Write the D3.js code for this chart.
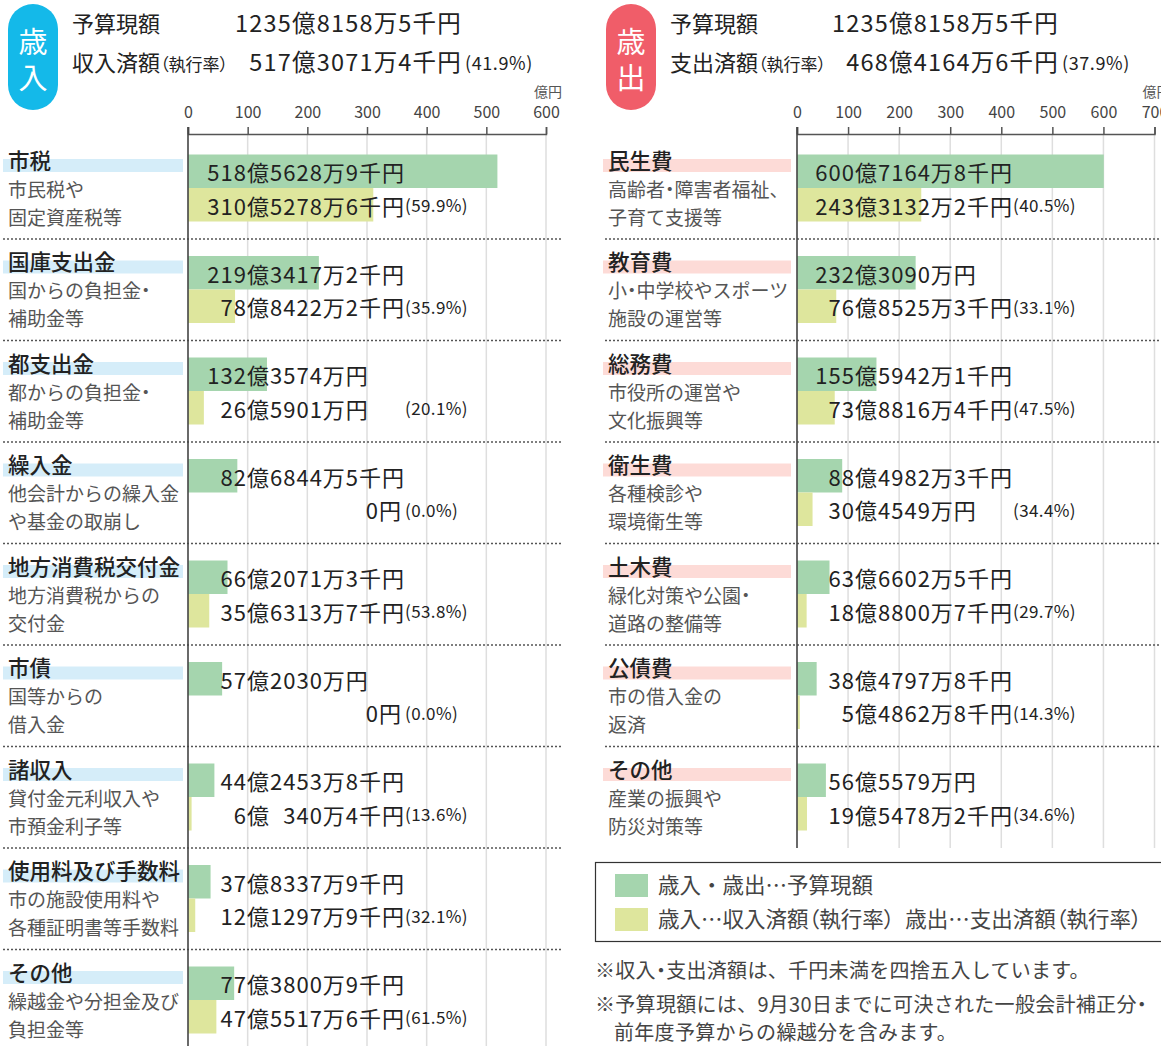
<!DOCTYPE html>
<html>
<head>
<meta charset="utf-8">
<script src="https://cdn.jsdelivr.net/npm/d3@7"></script>
<style>
  body { margin: 0; background: #fff; }
  svg { display: block; font-family: "Noto Sans CJK JP", "Noto Sans", sans-serif; }
  .palt { font-feature-settings: "palt"; }
</style>
</head>
<body>
<script>
// 歳入 (revenue) data
var revCats = ["市税", "国庫支出金", "都支出金", "繰入金", "地方消費税交付金", "市債", "諸収入", "使用料及び手数料", "その他"];
var revNotes = [
  ["市民税や", "固定資産税等"],
  ["国からの負担金・", "補助金等"],
  ["都からの負担金・", "補助金等"],
  ["他会計からの繰入金", "や基金の取崩し"],
  ["地方消費税からの", "交付金"],
  ["国等からの", "借入金"],
  ["貸付金元利収入や", "市預金利子等"],
  ["市の施設使用料や", "各種証明書等手数料"],
  ["繰越金や分担金及び", "負担金等"]
];
var revBudget = [518.5629, 219.3417, 132.3574, 82.6845, 66.2071, 57.2030, 44.2454, 37.8338, 77.3801];
var revActual = [310.5279, 78.8422, 26.5901, 0, 35.6314, 0, 6.0340, 12.1298, 47.5518];
var revBudgetLabels = ["518億5628万9千円", "219億3417万2千円", "132億3574万円", "82億6844万5千円", "66億2071万3千円", "57億2030万円", "44億2453万8千円", "37億8337万9千円", "77億3800万9千円"];
var revActualLabels = ["310億5278万6千円", "78億8422万2千円", "26億5901万円", "0円", "35億6313万7千円", "0円", "6億\u2007340万4千円", "12億1297万9千円", "47億5517万6千円"];
var revRates = ["(59.9%)", "(35.9%)", "(20.1%)", "(0.0%)", "(53.8%)", "(0.0%)", "(13.6%)", "(32.1%)", "(61.5%)"];

// 歳出 (expenditure) data
var expCats = ["民生費", "教育費", "総務費", "衛生費", "土木費", "公債費", "その他"];
var expNotes = [
  ["高齢者・障害者福祉、", "子育て支援等"],
  ["小・中学校やスポーツ", "施設の運営等"],
  ["市役所の運営や", "文化振興等"],
  ["各種検診や", "環境衛生等"],
  ["緑化対策や公園・", "道路の整備等"],
  ["市の借入金の", "返済"],
  ["産業の振興や", "防災対策等"]
];
var expBudget = [600.7165, 232.3090, 155.5942, 88.4982, 63.6603, 38.4798, 56.5579];
var expActual = [243.3132, 76.8525, 73.8816, 30.4549, 18.8801, 5.4863, 19.5478];
var expBudgetLabels = ["600億7164万8千円", "232億3090万円", "155億5942万1千円", "88億4982万3千円", "63億6602万5千円", "38億4797万8千円", "56億5579万円"];
var expActualLabels = ["243億3132万2千円", "76億8525万3千円", "73億8816万4千円", "30億4549万円", "18億8800万7千円", "5億4862万8千円", "19億5478万2千円"];
var expRates = ["(40.5%)", "(33.1%)", "(47.5%)", "(34.4%)", "(29.7%)", "(14.3%)", "(34.6%)"];

var revTicks = [0, 100, 200, 300, 400, 500, 600];
var expTicks = [0, 100, 200, 300, 400, 500, 600, 700];

var W = 1161, H = 1046;
var green = "#a5d5ae", yellow = "#dee69d";
var rowTop = 137.5, rowH = 101.5, barH = 33.5;

var svg = d3.select("body").append("svg")
    .attr("width", W)
    .attr("height", H);

// narrow middle dots and brackets, like the printed sheet
function softText(sel, str) {
  var parts = str.split(/([・（）])/);
  parts.forEach(function(p) {
    if (!p) return;
    var ts = sel.append("tspan").text(p);
    if (p === "・" || p === "（" || p === "）") ts.attr("class", "palt");
  });
}

function drawHeader(opt) {
  var g = svg.append("g");
  g.append("rect")
    .attr("x", opt.x).attr("y", 4)
    .attr("width", 50).attr("height", 106)
    .attr("rx", 25)
    .attr("fill", opt.color);
  var b = g.append("text").attr("text-anchor", "middle").attr("font-size", 29).attr("fill", "#fff");
  b.append("tspan").attr("x", opt.x + 25).attr("y", 53).text(opt.badge[0]);
  b.append("tspan").attr("x", opt.x + 25).attr("y", 89).text(opt.badge[1]);

  g.append("text").attr("x", opt.x + 64).attr("y", 32)
    .attr("font-size", 22).attr("fill", "#222")
    .text("予算現額");
  g.append("text").attr("x", opt.numEnd).attr("y", 32)
    .attr("text-anchor", "end").attr("font-size", 23.5).attr("letter-spacing", 1.2).attr("fill", "#222")
    .text(opt.budget);

  var t = g.append("text").attr("x", opt.x + 64).attr("y", 71)
    .attr("font-size", 22).attr("fill", "#222");
  t.append("tspan").text(opt.doneLabel);
  var s = t.append("tspan").attr("font-size", 17);
  softText(s, "（執行率）");
  g.append("text").attr("x", opt.numEnd).attr("y", 71)
    .attr("text-anchor", "end").attr("font-size", 23.5).attr("letter-spacing", 1.2).attr("fill", "#222")
    .text(opt.done);
  g.append("text").attr("x", opt.numEnd + 3).attr("y", 70)
    .attr("font-size", 18).attr("letter-spacing", 0.6).attr("fill", "#222")
    .text(opt.rate);
}

function amountLabel(g, label, xOku, xEnd, y) {
  var i = label.indexOf("億");
  if (i >= 0) {
    g.append("text").attr("x", xOku).attr("y", y)
      .attr("text-anchor", "end").attr("dominant-baseline", "central")
      .attr("font-size", 22).attr("letter-spacing", 1).attr("fill", "#222")
      .text(label.slice(0, i));
    g.append("text").attr("x", xOku).attr("y", y)
      .attr("dominant-baseline", "central")
      .attr("font-size", 22).attr("letter-spacing", 1).attr("fill", "#222")
      .style("white-space", "pre")
      .text(label.slice(i));
  } else {
    g.append("text").attr("x", xEnd).attr("y", y)
      .attr("text-anchor", "end").attr("dominant-baseline", "central")
      .attr("font-size", 22).attr("letter-spacing", 1).attr("fill", "#222")
      .text(label);
  }
}

function drawPanel(opt) {
  var g = svg.append("g");
  var n = opt.cats.length;
  var bottom = Math.min(H, rowTop + n * rowH);
  var x = d3.scaleLinear()
      .domain([0, opt.ticks[opt.ticks.length - 1]])
      .range([opt.x0, opt.x1]);

  // gridlines
  g.selectAll(".grid")
    .data(opt.ticks.slice(1))
    .enter().append("line")
    .attr("x1", function(d) { return x(d); })
    .attr("x2", function(d) { return x(d); })
    .attr("y1", 134).attr("y2", bottom)
    .attr("stroke", "#dedede").attr("stroke-width", 1.5);

  // top axis
  var axis = g.append("g")
    .attr("transform", "translate(0,134)")
    .call(d3.axisTop(x).tickValues(opt.ticks).tickSizeOuter(0).tickSize(7).tickPadding(9));
  axis.select(".domain").attr("stroke", "#555").attr("stroke-width", 1.5);
  axis.selectAll(".tick line").attr("stroke", "#555").attr("stroke-width", 1.5);
  axis.selectAll(".tick text")
    .attr("font-family", "\"Noto Sans CJK JP\", sans-serif")
    .attr("font-size", 16).attr("fill", "#444");

  g.append("text")
    .attr("x", x(opt.ticks[opt.ticks.length - 1]) + 2).attr("y", 97)
    .attr("text-anchor", "middle").attr("font-size", 14).attr("fill", "#555")
    .text("億円");

  // separators
  g.selectAll(".sep")
    .data(d3.range(1, n))
    .enter().append("line")
    .attr("x1", opt.sepX0).attr("x2", opt.sepX1)
    .attr("y1", function(d) { return rowTop + d * rowH; })
    .attr("y2", function(d) { return rowTop + d * rowH; })
    .attr("stroke", "#555").attr("stroke-width", 1.6)
    .attr("stroke-dasharray", "2,2");

  // category labels
  var rows = g.selectAll(".row")
    .data(opt.cats)
    .enter().append("g")
    .attr("transform", function(d, i) { return "translate(0," + (rowTop + i * rowH) + ")"; });

  rows.append("rect")
    .attr("x", opt.bandX).attr("y", 21.5)
    .attr("width", opt.bandW).attr("height", 13)
    .attr("fill", opt.band);
  rows.append("text")
    .attr("x", opt.bandX + 5).attr("y", 31)
    .attr("font-size", 21.5).attr("font-weight", 500).attr("fill", "#222")
    .text(function(d) { return d; });
  rows.append("text")
    .attr("x", opt.bandX + 5).attr("y", 59)
    .attr("font-size", 19).attr("fill", "#555")
    .each(function(d, i) { softText(d3.select(this), opt.notes[i][0]); });
  rows.append("text")
    .attr("x", opt.bandX + 5).attr("y", 87)
    .attr("font-size", 19).attr("fill", "#555")
    .each(function(d, i) { softText(d3.select(this), opt.notes[i][1]); });

  // bars
  rows.append("rect")
    .attr("x", x(0)).attr("y", 17)
    .attr("width", function(d, i) { return x(opt.budget[i]) - x(0); })
    .attr("height", barH)
    .attr("fill", green);
  rows.append("rect")
    .attr("x", x(0)).attr("y", 17 + barH)
    .attr("width", function(d, i) { return x(opt.actual[i]) - x(0); })
    .attr("height", barH)
    .attr("fill", yellow);

  // vertical axis line
  g.append("line")
    .attr("x1", x(0)).attr("x2", x(0))
    .attr("y1", 127).attr("y2", bottom)
    .attr("stroke", "#444").attr("stroke-width", 1.6);

  // value labels
  rows.each(function(d, i) {
    var r = d3.select(this);
    amountLabel(r, opt.budgetLabels[i], opt.xOku, opt.xEnd, 17 + barH / 2);
    amountLabel(r, opt.actualLabels[i], opt.xOku, opt.xEnd, 17 + barH * 1.5);
    r.append("text")
      .attr("x", opt.xEnd + 3).attr("y", 17 + barH * 1.5)
      .attr("dominant-baseline", "central")
      .attr("font-size", 17).attr("letter-spacing", 0.4).attr("fill", "#222")
      .text(opt.rates[i]);
  });
}

drawHeader({ x: 8, color: "#14b9e9", badge: ["歳", "入"], doneLabel: "収入済額",
  budget: "1235億8158万5千円", done: "517億3071万4千円", rate: "(41.9%)", numEnd: 462 });
drawHeader({ x: 606, color: "#f05d69", badge: ["歳", "出"], doneLabel: "支出済額",
  budget: "1235億8158万5千円", done: "468億4164万6千円", rate: "(37.9%)", numEnd: 1059 });

drawPanel({ cats: revCats, notes: revNotes, budget: revBudget, actual: revActual,
  budgetLabels: revBudgetLabels, actualLabels: revActualLabels, rates: revRates,
  ticks: revTicks, x0: 188, x1: 546, sepX0: 3, sepX1: 562,
  bandX: 3, bandW: 180, band: "#d5edf9", xOku: 247, xEnd: 402 });

drawPanel({ cats: expCats, notes: expNotes, budget: expBudget, actual: expActual,
  budgetLabels: expBudgetLabels, actualLabels: expActualLabels, rates: expRates,
  ticks: expTicks, x0: 797, x1: 1154.5, sepX0: 605, sepX1: 1161,
  bandX: 603, bandW: 188, band: "#fddbd7", xOku: 855, xEnd: 1010 });

// legend
var legendItems = ["歳入・歳出…予算現額", "歳入…収入済額（執行率）\u2002歳出…支出済額（執行率）"];
var legendColors = [green, yellow];
var lg = svg.append("g");
lg.append("rect")
  .attr("x", 595.5).attr("y", 862.5)
  .attr("width", 570).attr("height", 79)
  .attr("fill", "none").attr("stroke", "#333").attr("stroke-width", 1.2);
lg.selectAll(".sw")
  .data(legendItems)
  .enter().append("rect")
  .attr("x", 615).attr("y", function(d, i) { return 874 + i * 34; })
  .attr("width", 33).attr("height", 23)
  .attr("fill", function(d, i) { return legendColors[i]; });
lg.selectAll(".lt")
  .data(legendItems)
  .enter().append("text")
  .attr("x", 658).attr("y", function(d, i) { return 893 + i * 34; })
  .attr("font-size", 21.5).attr("fill", "#444")
  .style("white-space", "pre")
  .each(function(d, i) {
    if (i === 0) d3.select(this).text(d);
    else softText(d3.select(this), d);
  });

// notes
var notes = [
  { x: 595, y: 978, t: "※収入・支出済額は、千円未満を四捨五入しています。" },
  { x: 595, y: 1012, t: "※予算現額には、9月30日までに可決された一般会計補正分・" },
  { x: 614, y: 1040, t: "前年度予算からの繰越分を含みます。" }
];
svg.selectAll(".note")
  .data(notes)
  .enter().append("text")
  .attr("x", function(d) { return d.x; })
  .attr("y", function(d) { return d.y; })
  .attr("font-size", 20).attr("letter-spacing", 0.3).attr("fill", "#444")
  .each(function(d) { softText(d3.select(this), d.t); });
</script>
</body>
</html>
